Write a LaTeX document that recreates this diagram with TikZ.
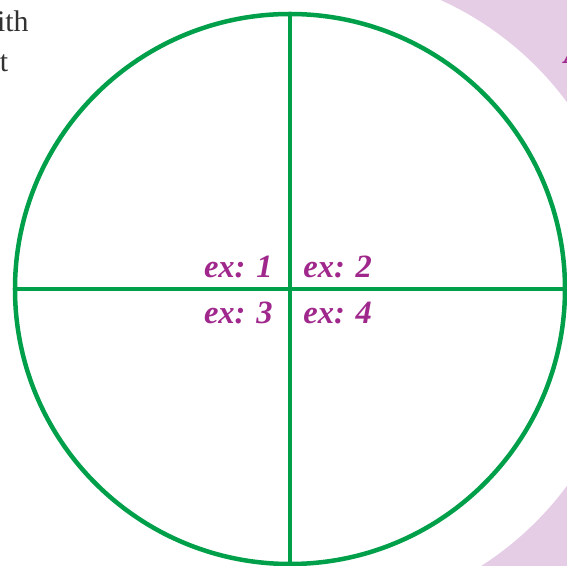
\documentclass[tikz,border=0pt]{standalone}
\usepackage{fontspec}
\setmainfont{Liberation Serif}
\usepackage{xcolor}
\usepackage{tikz}
\usetikzlibrary{positioning}
\definecolor{ringgreen}{RGB}{0,160,75}
\definecolor{exmagenta}{RGB}{160,40,140}
\definecolor{bgpink}{RGB}{230,205,230}
\definecolor{bodygray}{RGB}{50,50,50}

\begin{document}
\begin{tikzpicture}[
  ring/.style={draw=ringgreen, circle, line width=0.09cm, minimum size=11cm, inner sep=0pt, outer sep=0pt},
  axis/.style={draw=ringgreen, line width=0.09cm},
  exlabel/.style={text=exmagenta, font=\fontsize{18.5}{20}\selectfont\bfseries\itshape, inner sep=0pt},
  bodytext/.style={text=bodygray, font=\fontsize{17}{20}\selectfont, inner sep=0pt}
]
\useasboundingbox (-5.8,-5.54) rectangle (5.54,5.78);
\clip (-5.8,-5.54) rectangle (5.54,5.78);
% page background around the circle
\fill[bgpink] (2,-5.54) rectangle (5.54,5.78);
\fill[white] (0.35,-0.1) circle (6.45);
\node[bodytext, anchor=base east] (word1) at (-5.22,5.14) {with};
\node[bodytext, anchor=base east] (word2) at (-5.63,4.34) {t};
\node[exlabel, anchor=base west] (margin) at (5.47,4.5) {A};
% circle and its two diameters
\node[ring] (disc) at (0,0) {};
\draw[axis] (disc.west) -- (disc.east);
\draw[axis] (disc.north) -- (disc.south);
\node[exlabel, anchor=base east] (ex1) at (-0.34,0.22) {ex: 1};
\node[exlabel, anchor=base west] (ex2) at (0.26,0.22) {ex: 2};
\node[exlabel, anchor=base east] (ex3) at (-0.34,-0.70) {ex: 3};
\node[exlabel, anchor=base west] (ex4) at (0.26,-0.70) {ex: 4};
\end{tikzpicture}
\end{document}
